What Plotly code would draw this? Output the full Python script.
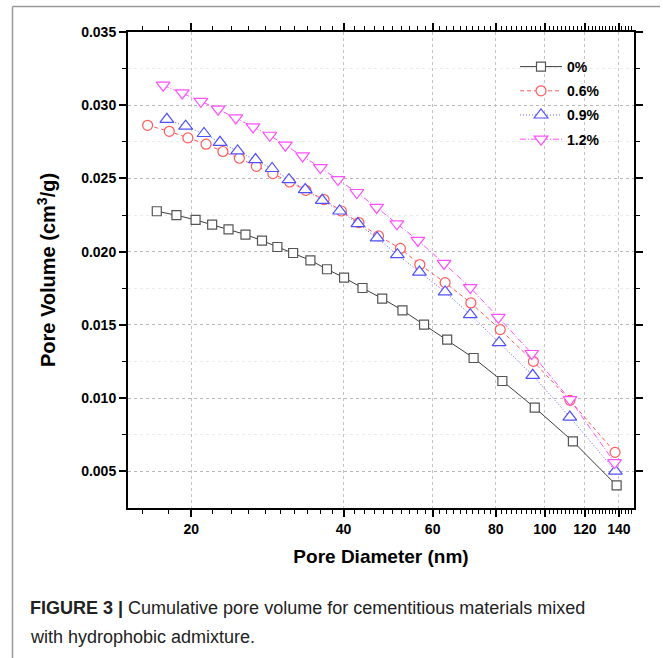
import plotly.graph_objects as go

# Cumulative pore volume (cm3/g) versus pore diameter (nm)
d_0 = [17.1, 18.7, 20.4, 22.0, 23.7, 25.6, 27.6, 29.6, 31.8, 34.4, 37.1,
       40.1, 43.6, 47.7, 52.3, 57.7, 64.1, 72.3, 82.4, 95.5, 113.6, 138.6]
v_0 = [0.02276, 0.02249, 0.02217, 0.02185, 0.02153, 0.02117, 0.02076, 0.02032,
       0.01991, 0.01941, 0.01880, 0.01823, 0.01752, 0.01680, 0.01600, 0.01502,
       0.01400, 0.01274, 0.01117, 0.00935, 0.00705, 0.00404]

d_06 = [16.4, 18.1, 19.7, 21.4, 23.1, 24.9, 26.9, 29.0, 31.3, 33.7, 36.6,
        39.6, 42.9, 46.9, 51.8, 56.6, 63.5, 71.4, 81.6, 94.9, 112.1, 137.6]
v_06 = [0.02863, 0.02822, 0.02777, 0.02734, 0.02684, 0.02638, 0.02583, 0.02533,
        0.02476, 0.02419, 0.02356, 0.02278, 0.02199, 0.02108, 0.02022, 0.01912,
        0.01789, 0.01650, 0.01468, 0.01251, 0.00985, 0.00630]

d_09 = [17.9, 19.5, 21.2, 22.8, 24.7, 26.8, 28.9, 31.2, 33.6, 36.3, 39.3,
        42.7, 46.6, 51.1, 56.5, 63.5, 71.2, 81.2, 94.6, 112.0, 137.8]
v_09 = [0.02904, 0.02857, 0.02807, 0.02747, 0.02688, 0.02629, 0.02568, 0.02492,
        0.02424, 0.02351, 0.02278, 0.02192, 0.02094, 0.01980, 0.01861, 0.01725,
        0.01570, 0.01379, 0.01156, 0.00871, 0.00502]

d_12 = [17.6, 19.2, 20.9, 22.6, 24.5, 26.5, 28.6, 30.7, 33.2, 36.0, 39.0,
        42.5, 46.5, 51.0, 56.1, 63.2, 71.2, 80.9, 94.2, 112.1, 137.3]
v_12 = [0.03137, 0.03084, 0.03027, 0.02973, 0.02913, 0.02852, 0.02795, 0.02727,
        0.02654, 0.02574, 0.02492, 0.02404, 0.02302, 0.02190, 0.02077, 0.01920,
        0.01755, 0.01552, 0.01305, 0.00990, 0.00560]

series_names = ["0%", "0.6%", "0.9%", "1.2%"]

x_major = [20, 40, 60, 80, 100, 120, 140]
x_minor = [v for v in range(16, 150, 2) if v not in x_major]
y_major = [0.005, 0.010, 0.015, 0.020, 0.025, 0.030, 0.035]
y_minor = [0.0075, 0.0125, 0.0175, 0.0225, 0.0275, 0.0325]

W, H = 663, 658
L, R, T, B = 128, 634, 32, 508

def px(x):
    return (x - L) / (R - L)

def py(y):
    return (B - y) / (B - T)

styles = [
    dict(color="#555555", line="#3c3c3c", dash="solid", symbol="square", size=9),
    dict(color="#ff5a5a", line="#ff5a5a", dash="4px,3px", symbol="circle", size=10),
    dict(color="#5050ff", line="#6060ff", dash="1px,2px", symbol="triangle-up", size=12),
    dict(color="#ff50ff", line="#ff50ff", dash="6px,2px,1px,2px", symbol="triangle-down", size=12),
]

fig = go.Figure()
for name, xs, ys, st in zip(series_names, [d_0, d_06, d_09, d_12],
                            [v_0, v_06, v_09, v_12], styles):
    fig.add_trace(go.Scatter(
        x=xs, y=ys, name=name, mode="lines+markers", legendgroup=name,
        line=dict(color=st["line"], width=1, dash=st["dash"]),
        marker=dict(symbol=st["symbol"], size=st["size"], color="white",
                    line=dict(color=st["color"], width=1.2)),
    ))

axis_font = dict(family="Liberation Sans, Arial, sans-serif", size=14, color="black")
title_family = "Liberation Sans, Arial, sans-serif"

fig.update_xaxes(
    type="log", range=[1.1760913, 2.1760913],
    tickmode="array", tickvals=x_major,
    ticktext=["<b>%d</b>" % v for v in x_major],
    tickfont=axis_font, ticks="outside", ticklen=7, tickwidth=1.5, tickcolor="black",
    showline=True, linecolor="black", linewidth=2, mirror="ticks",
    showgrid=True, gridcolor="#c4c4c4", griddash="dot", gridwidth=1,
    minor=dict(tickmode="array", tickvals=x_minor, ticks="outside", ticklen=4,
               tickwidth=1.2, tickcolor="black", showgrid=False),
    title=dict(text="<b>Pore Diameter (nm)</b>", standoff=14,
               font=dict(family=title_family, size=19, color="black")),
    zeroline=False,
)
fig.update_yaxes(
    range=[0.0025, 0.035],
    tickmode="array", tickvals=y_major,
    ticktext=["<b>%.3f</b>" % v for v in y_major],
    tickfont=axis_font, ticks="outside", ticklen=7, tickwidth=1.5, tickcolor="black",
    showline=True, linecolor="black", linewidth=2, mirror="ticks",
    showgrid=True, gridcolor="#b8b8b8", griddash="dot", gridwidth=1,
    minor=dict(tickmode="array", tickvals=y_minor, ticks="outside", ticklen=4,
               tickwidth=1.2, tickcolor="black", showgrid=True,
               gridcolor="#ececec", griddash="dot", gridwidth=1),
    title=dict(text="<b>Pore Volume (cm<sup>3</sup>/g)</b>", standoff=20,
               font=dict(family=title_family, size=20, color="black")),
    zeroline=False,
)

# outer figure frame and caption
frame = "#9a9a9a"
fig.add_shape(type="line", xref="paper", yref="paper",
              x0=px(12.5), x1=px(660), y0=py(6.5), y1=py(6.5),
              line=dict(color=frame, width=1.5))
fig.add_shape(type="line", xref="paper", yref="paper",
              x0=px(12.5), x1=px(12.5), y0=py(6.5), y1=py(670),
              line=dict(color=frame, width=1.5))

cap_font = dict(family="Liberation Sans, Arial, sans-serif", size=18, color="#222222")
fig.add_annotation(xref="paper", yref="paper", x=px(28), y=py(608),
                   xanchor="left", yanchor="middle", showarrow=False, align="left",
                   text="<b>FIGURE 3 |</b> Cumulative pore volume for cementitious materials mixed",
                   font=cap_font)
fig.add_annotation(xref="paper", yref="paper", x=px(28), y=py(637),
                   xanchor="left", yanchor="middle", showarrow=False, align="left",
                   text="with hydrophobic admixture.", font=cap_font)

fig.update_layout(
    width=W, height=H,
    margin=dict(l=L, r=W - R, t=T, b=H - B, autoexpand=False),
    paper_bgcolor="white", plot_bgcolor="white",
    showlegend=True,
    legend=dict(x=px(515), y=py(51), xanchor="left", yanchor="top",
                bgcolor="rgba(0,0,0,0)", borderwidth=0, itemwidth=42,
                traceorder="grouped", tracegroupgap=3,
                font=dict(family="Liberation Sans, Arial, sans-serif", size=14,
                          color="black", weight="bold")),
)

fig.write_html("out.html")
